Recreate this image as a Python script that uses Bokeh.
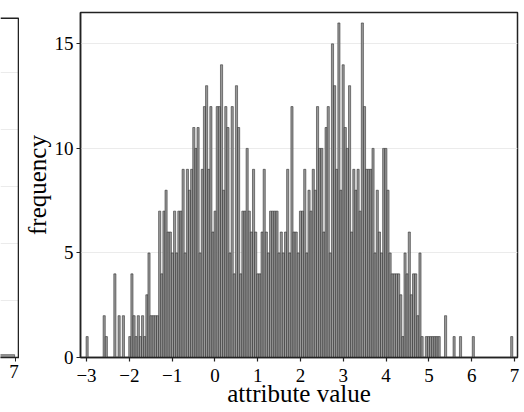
from bokeh.plotting import figure
from bokeh.models import Range1d, FixedTicker, ColumnDataSource
from bokeh.layouts import row
from bokeh.embed import file_html
from bokeh.resources import INLINE

# ---- data: histogram of the attribute (right panel) ----
BIN_START = -3.01
BIN_WIDTH = 0.04985
counts = [
    1, 0, 0, 0, 0, 0, 0, 0, 2, 1,        # 0-9
    0, 0, 0, 4, 0, 2, 0, 2, 0, 0,        # 10-19
    1, 4, 2, 1, 2, 1, 2, 1, 3, 5,        # 20-29
    2, 2, 2, 2, 7, 4, 7, 8, 6, 6,        # 30-39
    5, 7, 5, 7, 7, 9, 5, 9, 8, 9,        # 40-49
    11, 10, 11, 5, 9, 12, 13, 9, 12, 6,  # 50-59
    7, 12, 12, 14, 8, 12, 11, 5, 12, 4,  # 60-69
    13, 11, 4, 7, 7, 10, 7, 6, 9, 6,     # 70-79
    4, 4, 6, 9, 6, 5, 7, 7, 7, 7,        # 80-89
    5, 6, 5, 6, 9, 5, 12, 6, 6, 5,       # 90-99
    7, 7, 9, 5, 8, 7, 9, 8, 12, 10,      # 100-109
    10, 6, 11, 12, 5, 15, 13, 9, 16, 8,  # 110-119
    14, 11, 10, 13, 6, 9, 8, 9, 7, 16,   # 120-129
    12, 9, 9, 9, 10, 5, 8, 6, 5, 10,     # 130-139
    10, 8, 5, 4, 4, 4, 4, 3, 1, 5,       # 140-149
    4, 6, 3, 4, 4, 2, 5, 1, 0, 1,        # 150-159
    1, 1, 1, 1, 1, 1, 0, 0, 2, 0,        # 160-169
    0, 0, 1, 0, 0, 1, 0, 0, 0, 0,        # 170-179
    0, 1, 0, 0, 0, 0, 0, 0, 0, 0,        # 180-189
    0, 0, 0, 0, 0, 0, 0, 0, 0, 1,        # 190-199
]
x_ticks = [-3, -2, -1, 0, 1, 2, 3, 4, 5, 6, 7]
x_tick_labels = ["\u22123", "\u22122", "\u22121", "0", "1", "2", "3", "4", "5", "6", "7"]
y_ticks = [0, 5, 10, 15]

# ---- data: visible sliver of the neighbouring (left) panel ----
left_ticks = [7]
left_grid = [20, 40, 60, 80, 100]
left_bar_edges = [6.55, 6.98]
left_bar_count = [1]
LEFT_X_RANGE = (6.65, 7.094)
LEFT_Y_RANGE = (0, 121)
LEFT_FRAME_XMAX = 7.07     # right border of that panel
LEFT_FRAME_YMAX = 119      # top border of that panel

FONT = "Liberation Serif"
DARK = "#222222"
BAR_FILL = "#999999"
BAR_LINE = "#262626"
H = 412
TOP = 12
BOTTOM = 55

# ---------- main panel ----------
lefts, rights, tops = [], [], []
for i, c in enumerate(counts):
    if c > 0:
        lefts.append(BIN_START + i * BIN_WIDTH)
        rights.append(BIN_START + (i + 1) * BIN_WIDTH)
        tops.append(c)
src = ColumnDataSource(dict(left=lefts, right=rights, top=tops, bottom=[0] * len(tops)))

p = figure(width=505, height=H, x_range=Range1d(-3.14, 7.07), y_range=Range1d(0, 16.5),
           output_backend="svg", toolbar_location=None,
           min_border_left=61, min_border_right=7, min_border_top=TOP, min_border_bottom=BOTTOM)
p.quad(left="left", right="right", top="top", bottom="bottom", source=src,
       fill_color=BAR_FILL, line_color=BAR_LINE, line_width=0.55)

p.xgrid.visible = False
p.ygrid.ticker = FixedTicker(ticks=[5, 10, 15])
p.ygrid.grid_line_color = "#ebebeb"
p.ygrid.grid_line_width = 1
p.outline_line_color = DARK
p.outline_line_width = 1.5
p.outline_line_alpha = 1.0

p.xaxis.ticker = FixedTicker(ticks=x_ticks)
p.xaxis.major_label_overrides = {t: s for t, s in zip(x_ticks, x_tick_labels)}
p.yaxis.ticker = FixedTicker(ticks=y_ticks)
for ax in (p.xaxis, p.yaxis):
    ax.axis_line_color = DARK
    ax.axis_line_width = 1.5
    ax.major_tick_line_color = DARK
    ax.major_tick_line_width = 1.2
    ax.major_tick_out = 4
    ax.major_tick_in = 0
    ax.minor_tick_line_color = None
    ax.major_label_text_font = FONT
    ax.major_label_text_font_size = "19px"
    ax.major_label_text_color = "black"
    ax.axis_label_text_font = FONT
    ax.axis_label_text_font_style = "normal"
    ax.axis_label_text_color = "black"
p.xaxis.major_label_standoff = 7
p.yaxis.major_label_standoff = 3
p.yaxis.axis_label = "frequency"
p.yaxis.axis_label_text_font_size = "25px"
p.yaxis.axis_label_standoff = 1
p.xaxis.axis_label = "attribute value"
p.xaxis.axis_label_text_font_size = "25px"
p.xaxis.axis_label_standoff = -5

# ---------- sliver of left panel ----------
q = figure(width=19, height=H, x_range=Range1d(*LEFT_X_RANGE), y_range=Range1d(*LEFT_Y_RANGE),
           output_backend="svg", toolbar_location=None, y_axis_location=None,
           min_border_left=0, min_border_right=0, min_border_top=TOP, min_border_bottom=BOTTOM)
q.quad(left=[left_bar_edges[0]], right=[left_bar_edges[1]], top=left_bar_count, bottom=[0],
       fill_color=BAR_FILL, line_color=BAR_LINE, line_width=0.55)
q.xgrid.visible = False
q.ygrid.ticker = FixedTicker(ticks=left_grid)
q.ygrid.grid_line_color = "#ebebeb"
q.outline_line_color = None
q.line(x=[LEFT_X_RANGE[0], LEFT_FRAME_XMAX, LEFT_FRAME_XMAX],
       y=[LEFT_FRAME_YMAX, LEFT_FRAME_YMAX, LEFT_Y_RANGE[0]],
       line_color=DARK, line_width=1.5)
q.xaxis.ticker = FixedTicker(ticks=left_ticks)
q.xaxis.axis_line_color = DARK
q.xaxis.axis_line_width = 1.5
q.xaxis.major_tick_line_color = DARK
q.xaxis.major_tick_out = 4
q.xaxis.major_tick_in = 0
q.xaxis.minor_tick_line_color = None
q.xaxis.major_label_text_font = FONT
q.xaxis.major_label_text_font_size = "19px"
q.xaxis.major_label_text_color = "black"
q.xaxis.major_label_standoff = 3

layout = row(q, p)
open("out.html", "w").write(file_html(layout, INLINE))
